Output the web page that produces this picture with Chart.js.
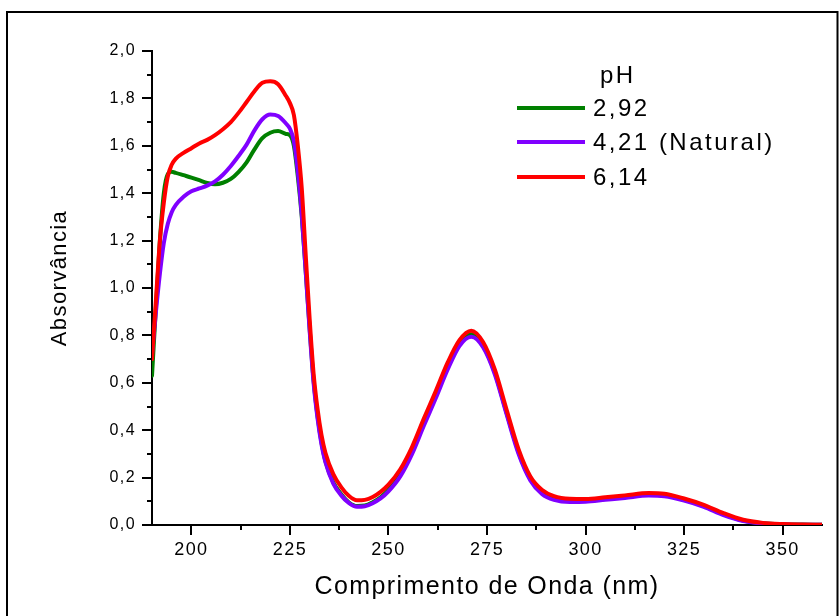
<!DOCTYPE html>
<html>
<head>
<meta charset="utf-8">
<script src="https://cdn.jsdelivr.net/npm/chart.js@4/dist/chart.umd.min.js"></script>
<style>
  html, body { margin: 0; padding: 0; background: #fff; }
  #wrap { width: 839px; height: 616px; position: relative; }
</style>
</head>
<body>
<div id="wrap"><canvas id="chart" width="839" height="616"></canvas></div>
<script>
// Wavelengths (nm) at which the spectra are sampled
const wavelengths = [190,191,192,193,194,195,196,198,200,202,204,206,208,210,212,214,216,218,220,222,224,225,226,227,228,229,230,231,232,233,234,236,238,240,242,244,246,248,250,253,256,259,262,265,268,271,274,277,280,283,286,289,292,296,300,305,310,316,320,325,330,335,340,345,350,355,360];

// Absorbance at pH 2,92
const absPH292 = [0.63,0.92,1.20,1.40,1.48,1.49,1.486,1.476,1.466,1.455,1.443,1.438,1.444,1.46,1.49,1.53,1.585,1.632,1.655,1.662,1.65,1.645,1.60,1.47,1.30,1.07,0.83,0.61,0.46,0.35,0.27,0.18,0.13,0.095,0.08,0.082,0.096,0.117,0.148,0.212,0.31,0.43,0.545,0.665,0.765,0.805,0.758,0.642,0.472,0.308,0.194,0.136,0.112,0.102,0.102,0.11,0.118,0.128,0.125,0.106,0.08,0.045,0.019,0.007,0.003,0.002,0.001];

// Absorbance at pH 4,21 (natural)
const absPH421 = [0.72,0.90,1.06,1.19,1.27,1.32,1.35,1.385,1.408,1.42,1.432,1.45,1.478,1.515,1.558,1.605,1.665,1.712,1.732,1.726,1.694,1.672,1.62,1.49,1.31,1.07,0.82,0.60,0.45,0.34,0.265,0.175,0.125,0.092,0.077,0.079,0.092,0.112,0.142,0.205,0.30,0.42,0.535,0.655,0.755,0.794,0.75,0.635,0.465,0.30,0.188,0.13,0.106,0.097,0.098,0.106,0.114,0.124,0.121,0.103,0.077,0.042,0.017,0.006,0.003,0.001,0.001];

// Absorbance at pH 6,14
const absPH614 = [0.70,0.95,1.20,1.36,1.47,1.52,1.545,1.57,1.59,1.61,1.625,1.645,1.67,1.70,1.74,1.785,1.83,1.866,1.872,1.86,1.81,1.78,1.73,1.60,1.42,1.14,0.87,0.64,0.49,0.38,0.305,0.215,0.16,0.122,0.104,0.106,0.118,0.14,0.17,0.235,0.33,0.45,0.565,0.685,0.78,0.82,0.772,0.655,0.485,0.32,0.205,0.148,0.122,0.111,0.11,0.117,0.125,0.135,0.132,0.112,0.085,0.05,0.022,0.009,0.004,0.002,0.001];

const seriesLabels = ['2,92', '4,21 (Natural)', '6,14'];
const seriesColors = ['#008000', '#8000ff', '#ff0000'];
const legendTitle = 'pH';

const xTickValues = [200, 225, 250, 275, 300, 325, 350];
const xMinorTickValues = [212.5, 237.5, 262.5, 287.5, 312.5, 337.5];
const yTickValues = [0, 0.2, 0.4, 0.6, 0.8, 1.0, 1.2, 1.4, 1.6, 1.8, 2.0];
const yMinorTickValues = [0.1, 0.3, 0.5, 0.7, 0.9, 1.1, 1.3, 1.5, 1.7, 1.9];

const xTitle = 'Comprimento de Onda (nm)';
const yTitle = 'Absorvância';

const FONT = '"Liberation Sans", Arial, sans-serif';
const commaDecimal = v => v.toFixed(1).replace('.', ',');

function toPoints(values) {
  return wavelengths.map((w, i) => ({ x: w, y: values[i] }));
}

// Slightly open letter spacing for all axis text
const spacingPlugin = {
  id: 'spacing',
  beforeUpdate(chart) { chart.ctx.letterSpacing = '1.4px'; },
  beforeDraw(chart) { chart.ctx.letterSpacing = '1.4px'; }
};

// White page with the outer frame
const framePlugin = {
  id: 'frame',
  beforeDraw(chart) {
    const ctx = chart.ctx;
    ctx.save();
    ctx.fillStyle = '#fff';
    ctx.fillRect(0, 0, chart.width, chart.height);
    ctx.strokeStyle = '#000';
    ctx.lineWidth = 2;
    ctx.strokeRect(7, 12, 830.5, 620);
    ctx.restore();
  }
};

// Outward tick marks (major and minor) on both axes, plus the y axis title
const tickMarksPlugin = {
  id: 'tickMarks',
  afterDraw(chart) {
    const ctx = chart.ctx;
    const xs = chart.scales.x, ys = chart.scales.y;
    const area = chart.chartArea;
    ctx.save();
    ctx.strokeStyle = '#000';
    ctx.lineWidth = 2;
    ctx.beginPath();
    const draw = (vals, len, horizontal) => {
      vals.forEach(v => {
        if (horizontal) {
          const px = Math.round(xs.getPixelForValue(v));
          ctx.moveTo(px, area.bottom);
          ctx.lineTo(px, area.bottom + len);
        } else {
          const py = Math.round(ys.getPixelForValue(v));
          ctx.moveTo(area.left, py);
          ctx.lineTo(area.left - len, py);
        }
      });
    };
    draw(xTickValues, 10, true);
    draw(xMinorTickValues, 5, true);
    draw(yTickValues, 10, false);
    draw(yMinorTickValues, 5, false);
    ctx.stroke();

    ctx.fillStyle = '#000';
    ctx.font = '22px ' + FONT;
    ctx.letterSpacing = '1.4px';
    ctx.textAlign = 'center';
    ctx.textBaseline = 'middle';
    ctx.translate(60, 278);
    ctx.rotate(-Math.PI / 2);
    ctx.fillText(yTitle, 0, 0);
    ctx.restore();
  }
};

// Legend with a "pH" heading, placed inside the plot
const phLegendPlugin = {
  id: 'phLegend',
  afterDraw(chart) {
    const ctx = chart.ctx;
    ctx.save();
    ctx.font = '24px ' + FONT;
    ctx.letterSpacing = '2.5px';
    ctx.fillStyle = '#000';
    ctx.textBaseline = 'middle';
    ctx.textAlign = 'left';
    ctx.fillText(legendTitle, 600, 76);
    const rows = [108, 142, 177];
    seriesLabels.forEach((label, i) => {
      ctx.strokeStyle = seriesColors[i];
      ctx.lineWidth = 4;
      ctx.beginPath();
      ctx.moveTo(517, rows[i]);
      ctx.lineTo(585, rows[i]);
      ctx.stroke();
      ctx.fillText(label, 593, rows[i] + 1);
    });
    ctx.restore();
  }
};

new Chart(document.getElementById('chart'), {
  type: 'line',
  data: {
    datasets: [absPH292, absPH421, absPH614].map((vals, i) => ({
      label: seriesLabels[i],
      data: toPoints(vals),
      borderColor: seriesColors[i],
      backgroundColor: seriesColors[i],
      borderWidth: 4,
      pointRadius: 0,
      fill: false,
      order: 2 - i,
      cubicInterpolationMode: 'monotone',
      borderJoinStyle: 'round',
      borderCapStyle: 'round'
    }))
  },
  options: {
    responsive: false,
    animation: false,
    layout: { padding: { top: 51, right: 17, left: 0, bottom: 0 } },
    plugins: {
      legend: { display: false },
      tooltip: { enabled: false }
    },
    scales: {
      x: {
        type: 'linear',
        min: 190,
        max: 360,
        afterBuildTicks: s => { s.ticks = xTickValues.map(v => ({ value: v })); },
        afterFit: s => { s.height = 91; },
        grid: { display: false, drawTicks: false },
        border: { display: true, color: '#000', width: 2 },
        ticks: {
          color: '#000',
          padding: 14,
          maxRotation: 0,
          autoSkip: false,
          font: { family: FONT, size: 18 },
          callback: v => String(v)
        },
        title: {
          display: true,
          text: xTitle,
          color: '#000',
          font: { family: FONT, size: 25 },
          padding: { top: 0, bottom: 14 }
        }
      },
      y: {
        type: 'linear',
        min: 0,
        max: 2.0,
        afterBuildTicks: s => { s.ticks = yTickValues.map(v => ({ value: v })); },
        afterFit: s => { s.width = 152; },
        grid: { display: false, drawTicks: false },
        border: { display: true, color: '#000', width: 2 },
        ticks: {
          color: '#000',
          padding: 16,
          autoSkip: false,
          font: { family: FONT, size: 16 },
          callback: v => commaDecimal(v)
        },
        title: { display: false }
      }
    }
  },
  plugins: [spacingPlugin, framePlugin, tickMarksPlugin, phLegendPlugin]
});
</script>
</body>
</html>
